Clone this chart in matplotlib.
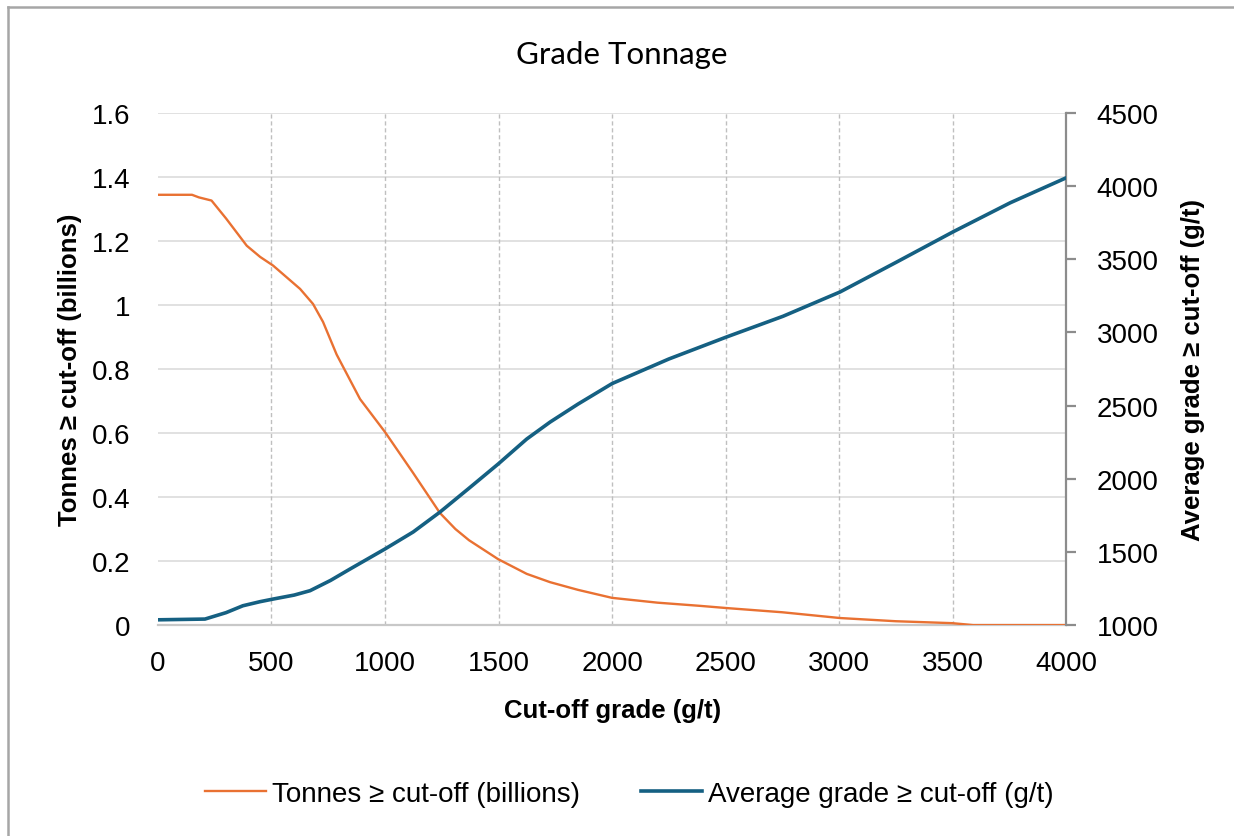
import numpy as np
import matplotlib.pyplot as plt
from matplotlib.lines import Line2D

# cut-off grade (g/t) and tonnes above cut-off (billions)
tonnes_cutoff = [0, 150, 180, 236, 300, 391, 450, 507, 626, 683, 727, 787, 890,
                 1000, 1124, 1242, 1310, 1370, 1498, 1624, 1727, 1850, 2000, 2200,
                 2388, 2507, 2750, 3004, 3250, 3498, 3590, 4000]
tonnes = [1.344, 1.344, 1.336, 1.326, 1.27, 1.185, 1.15, 1.123, 1.05, 1.003,
          0.947, 0.845, 0.706, 0.603, 0.475, 0.35, 0.30, 0.265, 0.206, 0.16,
          0.134, 0.11, 0.085, 0.07, 0.06, 0.053, 0.04, 0.022, 0.012, 0.006,
          0.0, 0.0]

# cut-off grade (g/t) and average grade above cut-off (g/t)
grade_cutoff = [0, 207, 300, 374, 450, 508, 600, 670, 760, 846, 1000, 1124,
                1242, 1370, 1498, 1624, 1727, 1850, 2000, 2250, 2505, 2753,
                3004, 3254, 3502, 3753, 4000]
avg_grade = [1036, 1041, 1085, 1132, 1160, 1178, 1205, 1235, 1305, 1383, 1520,
             1636, 1772, 1935, 2100, 2271, 2387, 2510, 2650, 2818, 2969, 3110,
             3276, 3481, 3687, 3885, 4056]

left_ticks = [0, 0.2, 0.4, 0.6, 0.8, 1.0, 1.2, 1.4, 1.6]
left_labels = ["0", "0.2", "0.4", "0.6", "0.8", "1", "1.2", "1.4", "1.6"]
right_ticks = [1000, 1500, 2000, 2500, 3000, 3500, 4000, 4500]
x_ticks = [0, 500, 1000, 1500, 2000, 2500, 3000, 3500, 4000]

ORANGE = "#E97132"
BLUE = "#156082"

plt.rcParams["font.family"] = ["Liberation Sans", "DejaVu Sans"]

fig = plt.figure(figsize=(12.34, 8.37), dpi=100)
ax = fig.add_axes([0.128, 0.252, 0.736, 0.612])
ax2 = ax.twinx()

ax.plot(tonnes_cutoff, tonnes, color=ORANGE, lw=1.7, zorder=3)
ax2.plot(grade_cutoff, avg_grade, color=BLUE, lw=2.6, zorder=3)

ax.set_xlim(0, 4000)
ax.set_ylim(0, 1.6)
ax2.set_ylim(1000, 4500)

ax.set_xticks(x_ticks)
ax.set_yticks(left_ticks)
ax.set_yticklabels(left_labels)
ax2.set_yticks(right_ticks)

# grid: solid horizontal, dashed vertical
for v in left_ticks[1:]:
    ax.axhline(v, color="#D9D9D9", lw=1.1, zorder=1)
for v in x_ticks[1:-1]:
    ax.axvline(v, color="#BFBFBF", lw=1.0, ls=(0, (3, 2)), zorder=1)

for s in ["top", "left", "right"]:
    ax.spines[s].set_visible(False)
ax.spines["bottom"].set_color("#C8C8C8")
ax.spines["bottom"].set_linewidth(1.6)
for s in ["top", "left", "bottom"]:
    ax2.spines[s].set_visible(False)
ax2.spines["right"].set_color("#8C8C8C")
ax2.spines["right"].set_linewidth(1.6)

ax.tick_params(axis="both", length=0, labelsize=20, colors="black")
ax.tick_params(axis="y", pad=20)
ax.tick_params(axis="x", pad=18)
ax2.tick_params(axis="y", length=7, width=1.6, color="#8C8C8C",
                labelsize=20, labelcolor="black", pad=15, direction="out")

ax.set_xlabel("Cut-off grade (g/t)", fontsize=18.5, fontweight="bold", va="center")
ax.xaxis.set_label_coords(0.5, -0.166)
ax.set_ylabel("Tonnes ≥ cut-off (billions)", fontsize=18.5, fontweight="bold",
              va="center")
ax.yaxis.set_label_coords(-0.097, 0.5)
ax2.set_ylabel("Average grade ≥ cut-off (g/t)", fontsize=18.5, fontweight="bold",
               va="center", rotation=90)
ax2.yaxis.set_label_coords(1.140, 0.5)

fig.text(0.504, 0.934, "Grade Tonnage", ha="center", va="center",
         fontsize=22.5, family=["Lato", "DejaVu Sans"])

handles = [Line2D([], [], color=ORANGE, lw=1.7),
           Line2D([], [], color=BLUE, lw=2.6)]
fig.legend(handles, ["Tonnes ≥ cut-off (billions)", "Average grade ≥ cut-off (g/t)"],
           loc="center", bbox_to_anchor=(0.51, 0.05), ncol=2, frameon=False,
           prop={"family": ["Liberation Sans", "DejaVu Sans"], "size": 20},
           handlelength=2.2, handletextpad=0.2, columnspacing=2.2)

# chart border (left and top edges)
fig.add_artist(Line2D([0.0065, 0.0065], [0.0, 0.990], transform=fig.transFigure,
                      color="#A6A6A6", lw=1.8))
fig.add_artist(Line2D([0.0065, 1.0], [0.990, 0.990], transform=fig.transFigure,
                      color="#A6A6A6", lw=1.8))

fig.savefig("out.png", dpi=100)
